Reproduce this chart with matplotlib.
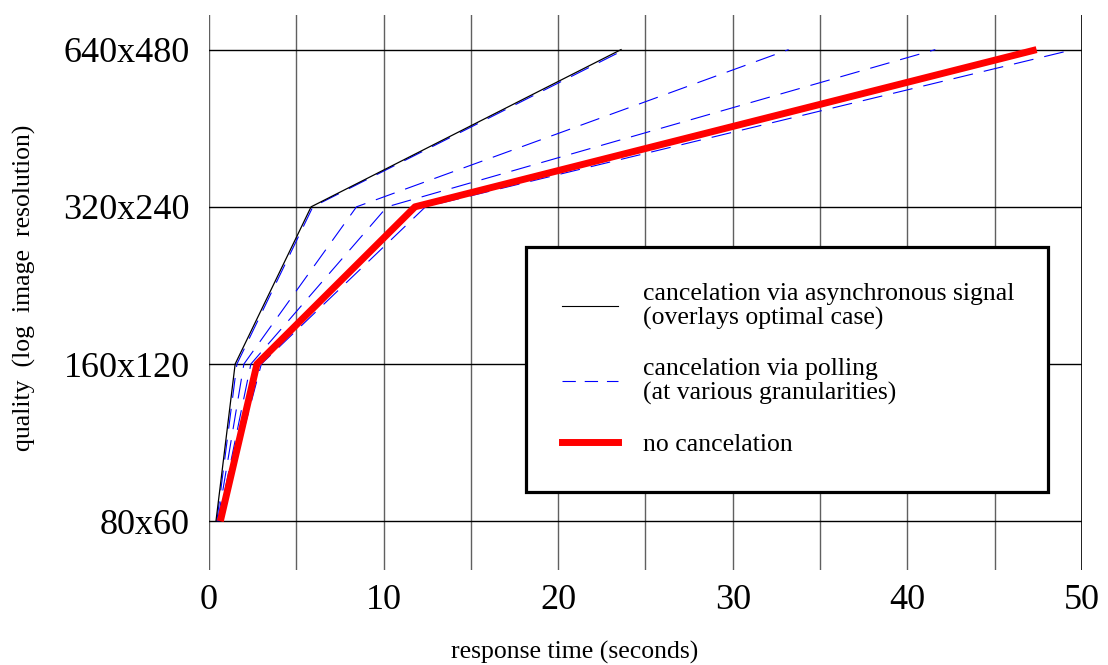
import numpy as np
import matplotlib
matplotlib.use("Agg")
import matplotlib.pyplot as plt
from matplotlib.lines import Line2D

plt.rcParams['font.family'] = ['Liberation Serif', 'DejaVu Serif']

# quality levels (log image resolution), one step per doubling
levels = [0, 1, 2, 3]
level_names = ['80x60', '160x120', '320x240', '640x480']

# response time (seconds) at which each quality level is reached
async_signal = [0.4, 1.5, 5.85, 23.6]
polling = [
    [0.45, 1.6, 5.95, 23.8],
    [0.5, 2.0, 8.45, 33.2],
    [0.55, 2.4, 10.2, 41.6],
    [0.6, 3.0, 12.4, 49.5],
]
no_cancel = [0.65, 2.75, 11.8, 47.4]

fig = plt.figure(figsize=(11.08, 6.65), dpi=100)
ax = fig.add_axes([0.1886, 0.1429, 0.7879, 0.8345])

for p in polling:
    ax.plot(p, levels, color='blue', lw=0.8, dashes=(18, 10), zorder=3)
ax.plot(async_signal, levels, color='black', lw=0.9, zorder=4)
ax.plot(no_cancel, levels, color='red', lw=5, solid_capstyle='butt', zorder=5)

ax.set_xlim(0, 50)
ax.set_ylim(-0.31, 3.22)
ax.set_xticks(np.arange(0, 51, 10))
ax.set_xticks(np.arange(0, 51, 5), minor=True)
ax.set_yticks(levels)
ax.set_yticklabels(level_names)
ax.tick_params(axis='both', which='both', length=0)
ax.tick_params(axis='x', labelsize=26, pad=10)
ax.tick_params(axis='y', labelsize=26, pad=14)

ax.grid(True, axis='x', which='both', color='#606060', lw=1.0, zorder=1)
ax.grid(True, axis='y', which='major', color='black', lw=1.0, zorder=1)
ax.axvline(50, color='black', lw=1.2, zorder=2)
for s in ax.spines.values():
    s.set_visible(False)

ax.set_xlabel('response time (seconds)', fontsize=18.5)
ax.xaxis.set_label_coords(0.419, -0.148)
ax.xaxis.label.set_va('center')
fig.text(0.022, 1 - 288 / 665, 'quality  (log  image  resolution)', fontsize=18.5,
         rotation=90, ha='center', va='center')

handles = [
    Line2D([], [], color='black', lw=0.8),
    Line2D([], [], color='blue', lw=0.8, dashes=(12, 8)),
    Line2D([], [], color='red', lw=5),
]
labels = [
    'cancelation via asynchronous signal\n(overlays optimal case)',
    'cancelation via polling\n(at various granularities)',
    'no cancelation',
]
leg = ax.legend(handles, labels, loc='upper left',
                bbox_to_anchor=(0.363, 0.146, 0.598, 0.436), mode='expand',
                fontsize=18.5, handlelength=2.2, handletextpad=0.95,
                borderpad=1.4, labelspacing=1.1, borderaxespad=0,
                fancybox=False, framealpha=1, edgecolor='black')
for t in leg.get_texts():
    t.set_linespacing(1.1)
leg.get_frame().set_linewidth(2.3)
leg.set_zorder(10)

fig.savefig('out.png', dpi=100)
